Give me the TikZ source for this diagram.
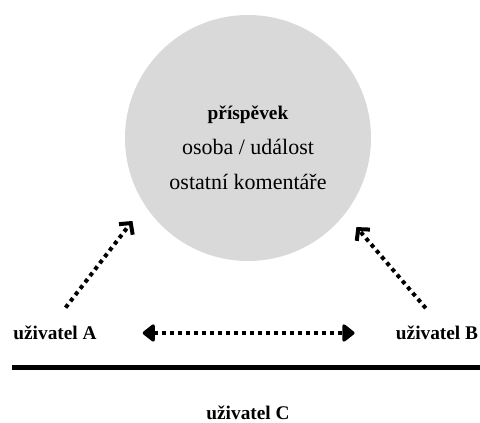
\documentclass[tikz,border=0pt]{standalone}
\usepackage{fontspec}
\setmainfont{Liberation Serif}
\definecolor{postGrey}{RGB}{217, 217, 217}
\usepackage{tikz}
\usetikzlibrary{arrows.meta}

\begin{document}
\begin{tikzpicture}[
    x=0.75pt, y=-0.75pt,
    post/.style={circle, fill=postGrey, minimum size=184.5pt, inner sep=0pt},
    heading/.style={font=\fontsize{14.5}{17}\selectfont\bfseries},
    entry/.style={font=\fontsize{16.5}{20}\selectfont},
    user/.style={font=\fontsize{14.5}{17}\selectfont\bfseries},
    link/.style={line width=3pt, dash pattern=on 3pt off 3pt},
    share/.style={link, -{Straight Barb[length=6pt, width=13pt, line width=3pt]}},
    talk/.style={link, {Triangle[length=10pt, width=15pt, round]}-{Triangle[length=10pt, width=15pt, round]}}
  ]
    \useasboundingbox (0,0) rectangle (480,423);
    \node[post] (POST) at (248,138) {};
    \node[heading] (TITLE) at (248,115) {příspěvek};
    \node[entry] (WHO) at (248,147) {osoba / událost};
    \node[entry] (COM) at (248,182) {ostatní komentáře};

    \node[user] (UA) at (55,333) {uživatel A};
    \node[user] (UB) at (437,333) {uživatel B};
    \node[user] (UC) at (248,413) {uživatel C};

    \draw[share, shorten <=13pt, shorten >=15pt] (UA.north) -- (POST.213);
    \draw[share, shorten <=13pt, shorten >=13pt] (UB.north) -- (POST.322);
    \draw[talk, shorten <=31pt, shorten >=27.5pt] (UA.east) -- (UB.west);

    \draw[line width=3.75pt] (12,368) -- (480,368);
  \end{tikzpicture}
\end{document}
